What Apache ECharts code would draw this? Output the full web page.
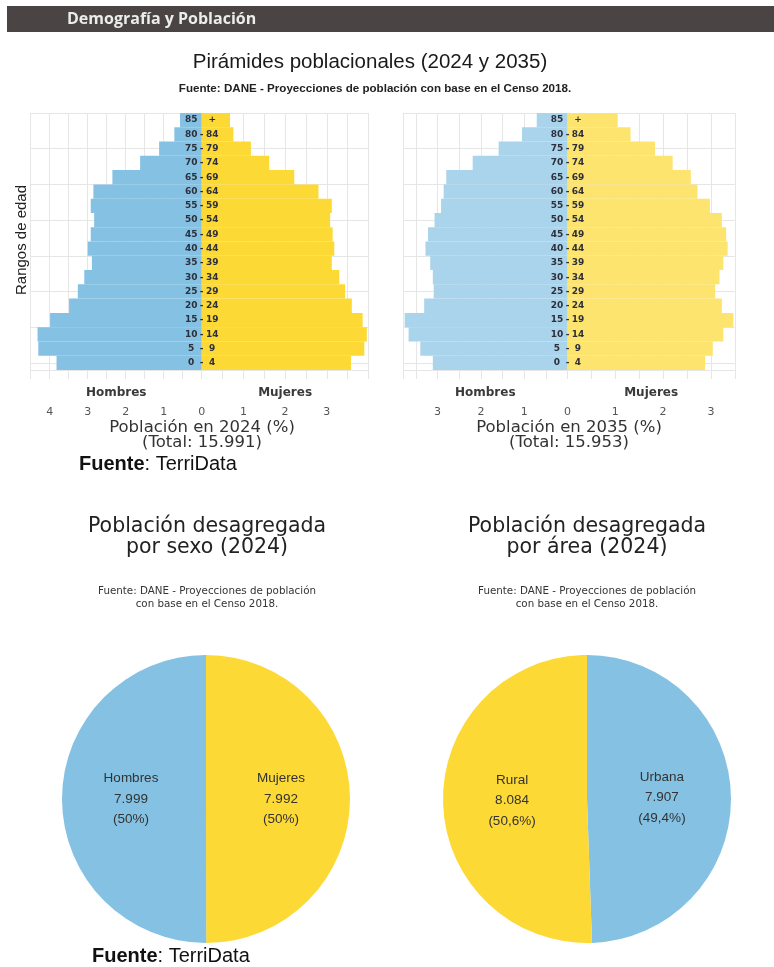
<!DOCTYPE html>
<html>
<head>
<meta charset="utf-8">
<title>Demografía y Población</title>
<script src="https://cdn.jsdelivr.net/npm/echarts@6/dist/echarts.min.js"></script>
<style>
  html, body { margin: 0; padding: 0; background: #fff; }
  #chart { width: 774px; height: 967px; }
</style>
</head>
<body>
<div id="chart"></div>
<script>
// rangos de edad, de abajo hacia arriba
const edades = ['0 - 4', '5 - 9', '10 - 14', '15 - 19', '20 - 24', '25 - 29', '30 - 34', '35 - 39', '40 - 44',
    '45 - 49', '50 - 54', '55 - 59', '60 - 64', '65 - 69', '70 - 74', '75 - 79', '80 - 84', '85 +'];

// % de la población total, 2024
const hombres2024 = [3.82, 4.30, 4.32, 3.99, 3.49, 3.26, 3.09, 2.89, 3.00, 2.92, 2.83, 2.92, 2.85, 2.35, 1.62, 1.12, 0.72, 0.57];
const mujeres2024 = [3.58, 3.90, 3.96, 3.86, 3.60, 3.44, 3.30, 3.12, 3.18, 3.14, 3.08, 3.12, 2.80, 2.22, 1.62, 1.18, 0.76, 0.68];
// % de la población total, 2035
const hombres2035 = [3.11, 3.40, 3.67, 3.76, 3.31, 3.09, 3.11, 3.17, 3.28, 3.22, 3.07, 2.92, 2.86, 2.80, 2.19, 1.59, 1.05, 0.71];
const mujeres2035 = [2.88, 3.04, 3.26, 3.47, 3.23, 3.09, 3.18, 3.26, 3.35, 3.32, 3.23, 2.98, 2.72, 2.58, 2.20, 1.83, 1.32, 1.05];

// tortas 2024
const sexoNombres = ['Mujeres', 'Hombres'];
const sexoValores = [7992, 7999];
const areaNombres = ['Urbana', 'Rural'];
const areaValores = [7907, 8084];

const azul = '#84c1e3', amarillo = '#fdd935';
const azulClaro = '#a9d4eb', amarilloClaro = '#fde46f';
const colorTorta = {Mujeres: amarillo, Hombres: azul, Urbana: azul, Rural: amarillo};
const gris = '#e6e6e6';

const chart = echarts.init(document.getElementById('chart'));

// grids con el cero compartido en cada pirámide
const arriba = 113, alto = 257;
const grids = [
    {left: 201.7 - 4.5 * 38, width: 4.5 * 38},      // hombres 2024
    {left: 201.7, width: 4 * 41.7},                  // mujeres 2024
    {left: 567.5 - 3.8 * 43.3, width: 3.8 * 43.3},  // hombres 2035
    {left: 567.5, width: 3.5 * 47.8}                 // mujeres 2035
].map(g => ({left: g.left, width: g.width, top: arriba, height: alto}));
const sexos = ['Hombres', 'Mujeres', 'Hombres', 'Mujeres'];

function ejeX(grid, max, inverso, maxEtiqueta) {
    return {
        type: 'value', gridIndex: grid, min: 0, max: max, interval: 0.5, inverse: inverso,
        axisLine: {show: false, onZero: false},
        axisTick: {show: true, length: 9, lineStyle: {color: gris}},
        axisLabel: {
            margin: 37, fontFamily: 'DejaVu Sans', fontSize: 11, color: '#555',
            formatter: v => {
                if (!Number.isInteger(v) || v > maxEtiqueta) return '';
                if (v === 0 && !inverso) return '';
                return String(v);
            }
        },
        splitLine: {show: true, lineStyle: {color: gris}}
    };
}

function etiquetaEdad(v) {
    const p = v.split(' ');
    if (p.length === 3) return '{l|' + p[0] + '}{d|-}{r|' + p[2] + '}';
    return '{l|' + p[0] + '}{d|}{r|' + p[1] + '}';
}

const estiloEdad = {fontFamily: 'DejaVu Sans', fontWeight: 'bold', fontSize: 9, color: '#2d2f3a'};
const yAxes = [];
grids.forEach((g, i) => {
    yAxes.push({
        type: 'category', gridIndex: i, data: edades, show: i === 0 || i === 2,
        position: 'right', z: 10,
        axisLine: {show: false, onZero: false}, axisTick: {show: false},
        axisLabel: {
            interval: 0, margin: 0, align: 'center', formatter: etiquetaEdad,
            rich: {
                l: Object.assign({width: 13, align: 'right'}, estiloEdad),
                d: Object.assign({width: 8, align: 'center'}, estiloEdad),
                r: Object.assign({width: 13, align: 'left'}, estiloEdad)
            }
        },
        splitLine: {show: false}
    });
    // líneas horizontales de la cuadrícula
    yAxes.push({
        type: 'value', gridIndex: i, min: 0, max: 18, interval: 2.5, inverse: true,
        axisLine: {show: false, onZero: false}, axisTick: {show: false}, axisLabel: {show: false},
        splitLine: {show: true, lineStyle: {color: gris}}
    });
});

function barras(i, datos, color) {
    return {
        type: 'bar', xAxisIndex: i, yAxisIndex: i * 2, data: datos,
        barCategoryGap: '0%', itemStyle: {color: color}, silent: true
    };
}

const fmtNum = n => String(n).replace(/\B(?=(\d{3})+(?!\d))/g, '.');

function torta(centro, nombres, valores) {
    const total = valores.reduce((a, b) => a + b, 0);
    return {
        type: 'pie', center: centro, radius: 144, startAngle: 90, clockwise: true, silent: true,
        data: nombres.map((n, i) => ({name: n, value: valores[i], itemStyle: {color: colorTorta[n]}})),
        label: {
            position: 'inside', color: '#333', fontFamily: 'Liberation Sans', fontSize: 13.5, lineHeight: 20.5,
            formatter: p => {
                const r = Math.round(p.value / total * 1000) / 10;
                const pct = (r % 1 === 0 ? r.toFixed(0) : r.toFixed(1)).replace('.', ',');
                return p.name + '\n' + fmtNum(p.value) + '\n(' + pct + '%)';
            }
        },
        labelLine: {show: false}
    };
}

function texto(x, y, t, estilo) {
    return {
        type: 'text', x: x, y: y, silent: true,
        style: Object.assign({
            text: t, align: 'center', verticalAlign: 'middle', textAlign: 'center', textVerticalAlign: 'middle',
            fill: '#222', fontFamily: 'Liberation Sans', fontSize: 12
        }, estilo)
    };
}

const fuenteDane = 'Fuente: DANE - Proyecciones de población\ncon base en el Censo 2018.';
const fuenteTerri = {align: 'left', textAlign: 'left', fontSize: 20, fill: '#111',
    rich: {b: {fontWeight: 'bold', fontSize: 20, fontFamily: 'Liberation Sans', fill: '#111'}}};

// nombres de sexo bajo cada mitad de la pirámide
const nombresSexo = grids.map((g, i) => texto(g.left + g.width / 2, 393, sexos[i],
    {fontFamily: 'DejaVu Sans', fontSize: 12, fontWeight: 'bold', fill: '#3a3a3a'}));

chart.setOption({
    animation: false,
    backgroundColor: '#fff',
    grid: grids,
    xAxis: [
        ejeX(0, 4.5, true, 4),
        ejeX(1, 4, false, 3),
        ejeX(2, 3.8, true, 3),
        ejeX(3, 3.5, false, 3)
    ],
    yAxis: yAxes,
    series: [
        barras(0, hombres2024, azul),
        barras(1, mujeres2024, amarillo),
        barras(2, hombres2035, azulClaro),
        barras(3, mujeres2035, amarilloClaro),
        torta([206, 799], sexoNombres, sexoValores),
        torta([587, 799], areaNombres, areaValores)
    ],
    graphic: [
        {type: 'rect', shape: {x: 7, y: 6, width: 767, height: 26}, style: {fill: '#4a4444'}, silent: true},
        texto(67, 19, 'Demografía y Población', {align: 'left', textAlign: 'left', fill: '#ececec', fontFamily: 'Open Sans', fontWeight: 'bold', fontSize: 16}),
        texto(370, 62, 'Pirámides poblacionales (2024 y 2035)', {fontSize: 20.5, fill: '#1a1a1a'}),
        texto(375, 89, 'Fuente: DANE - Proyecciones de población con base en el Censo 2018.', {fontSize: 11.6, fontWeight: 'bold', fill: '#222'}),
        Object.assign(texto(22, 240, 'Rangos de edad', {fontSize: 15, fill: '#222'}), {rotation: Math.PI / 2}),
        texto(202, 428, 'Población en 2024 (%)', {fontFamily: 'DejaVu Sans', fontSize: 16.5, fill: '#333'}),
        texto(202, 443, '(Total: 15.991)', {fontFamily: 'DejaVu Sans', fontSize: 16.5, fill: '#333'}),
        texto(569, 428, 'Población en 2035 (%)', {fontFamily: 'DejaVu Sans', fontSize: 16.5, fill: '#333'}),
        texto(569, 443, '(Total: 15.953)', {fontFamily: 'DejaVu Sans', fontSize: 16.5, fill: '#333'}),
        texto(79, 464, '{b|Fuente}: TerriData', fuenteTerri),
        texto(207, 537, 'Población desagregada\npor sexo (2024)', {fontFamily: 'DejaVu Sans', fontSize: 20.5, lineHeight: 21, fill: '#222'}),
        texto(587, 537, 'Población desagregada\npor área (2024)', {fontFamily: 'DejaVu Sans', fontSize: 20.5, lineHeight: 21, fill: '#222'}),
        texto(207, 598, fuenteDane, {fontFamily: 'DejaVu Sans', fontSize: 10.3, lineHeight: 12.5, fill: '#333'}),
        texto(587, 598, fuenteDane, {fontFamily: 'DejaVu Sans', fontSize: 10.3, lineHeight: 12.5, fill: '#333'}),
        texto(92, 956, '{b|Fuente}: TerriData', fuenteTerri)
    ].concat(nombresSexo)
});
</script>
</body>
</html>
